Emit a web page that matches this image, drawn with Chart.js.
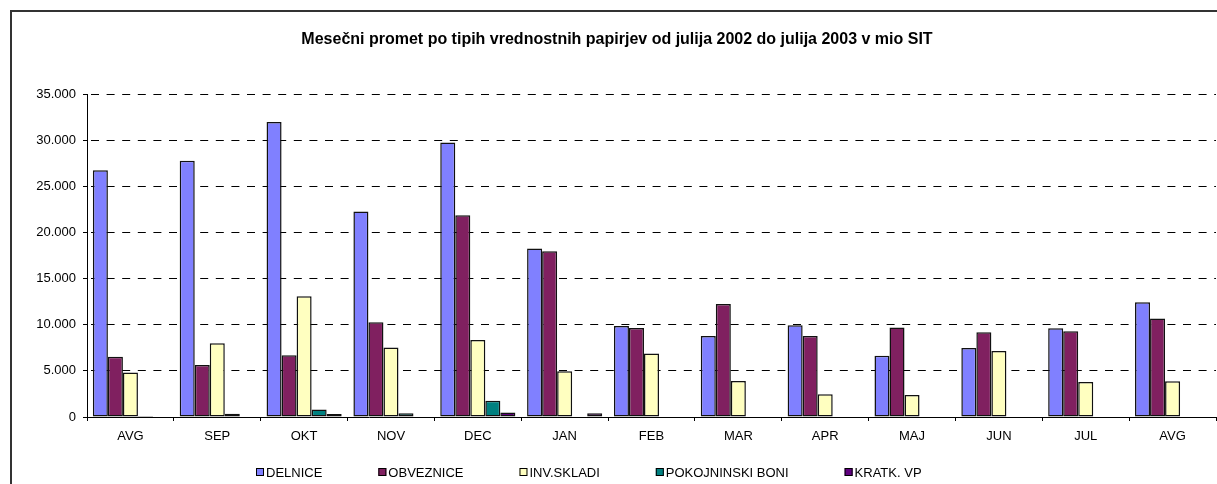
<!DOCTYPE html>
<html>
<head>
<meta charset="utf-8">
<title>Mesečni promet po tipih vrednostnih papirjev</title>
<script src="https://cdn.jsdelivr.net/npm/chart.js@4/dist/chart.umd.min.js"></script>
<style>
  html, body { margin: 0; padding: 0; background: #fff; overflow: hidden; }
  #wrap { position: relative; width: 1217px; height: 484px; }
</style>
</head>
<body>
<div id="wrap"><canvas id="chart" width="1217" height="484"></canvas></div>
<script>
const months = ["AVG", "SEP", "OKT", "NOV", "DEC", "JAN", "FEB", "MAR", "APR", "MAJ", "JUN", "JUL", "AVG"];

const delnice     = [26750, 27760, 31960, 22270, 29750, 18260, 9870, 8785, 9940, 6650, 7480, 9615, 12435];
const obveznice   = [6540, 5640, 6690, 10270, 21870, 17970, 9650, 12255, 8785, 9690, 9180, 9290, 10665];
const invSkladi   = [4810, 7990, 13090, 7520, 8350, 4950, 6870, 3905, 2460, 2385, 7160, 3795, 3870];
const pokojninski = [120, 360, 800, 400, 1760, null, null, null, null, null, null, null, null];
const kratkVp     = [null, null, 325, null, 480, 400, null, null, null, null, null, null, null];

const yTicks = [0, 5000, 10000, 15000, 20000, 25000, 30000, 35000];

const titleText = "Mesečni promet po tipih vrednostnih papirjev od julija 2002 do julija 2003 v mio SIT";
const font = "'Liberation Sans', Arial, sans-serif";

// thousands with a dot, like the original
function fmt(v) {
  return String(v).replace(/\B(?=(\d{3})+(?!\d))/g, ".");
}

// frame, title and legend drawn the way the old spreadsheet did it
const excelFrame = {
  id: "excelFrame",
  beforeDraw(chart) {
    const ctx = chart.ctx;
    ctx.save();
    ctx.fillStyle = "#fff";
    ctx.fillRect(0, 0, chart.width, chart.height);
    ctx.fillStyle = "#333";
    ctx.fillRect(10, 10, 2, chart.height);
    ctx.fillRect(10, 10, chart.width, 2);
    ctx.restore();
  },
  afterDraw(chart) {
    const ctx = chart.ctx;
    ctx.save();
    ctx.fillStyle = "#000";
    ctx.font = "bold 16px " + font;
    ctx.textAlign = "center";
    ctx.textBaseline = "middle";
    ctx.fillText(titleText, 617, 40);

    ctx.font = "13px " + font;
    ctx.textAlign = "left";
    let x = 256;
    const y = 472;
    chart.data.datasets.forEach(ds => {
      ctx.fillStyle = ds.backgroundColor;
      ctx.fillRect(x, y - 4, 8, 8);
      ctx.strokeStyle = "#000";
      ctx.lineWidth = 1;
      ctx.strokeRect(x + 0.5, y - 3.5, 7, 7);
      ctx.fillStyle = "#000";
      ctx.fillText(ds.label, x + 10, y + 1);
      x += 10 + ctx.measureText(ds.label).width + 56;
    });
    ctx.restore();
  }
};

function bar(label, data, color) {
  return {
    label,
    data,
    backgroundColor: color,
    borderColor: "#111",
    borderWidth: 1.5,
    borderSkipped: false,
    categoryPercentage: 0.865,
    barPercentage: 1
  };
}

new Chart(document.getElementById("chart"), {
  type: "bar",
  data: {
    labels: months,
    datasets: [
      bar("DELNICE", delnice, "#8080ff"),
      bar("OBVEZNICE", obveznice, "#802060"),
      bar("INV.SKLADI", invSkladi, "#ffffc0"),
      bar("POKOJNINSKI BONI", pokojninski, "#008080"),
      bar("KRATK. VP", kratkVp, "#600080")
    ]
  },
  options: {
    responsive: false,
    animation: false,
    layout: { padding: { top: 94, right: 1, bottom: 37, left: 0 } },
    plugins: {
      legend: { display: false },
      title: { display: false },
      tooltip: { enabled: false }
    },
    scales: {
      x: {
        afterFit: s => { s.height = 30; },
        grid: {
          offset: true,
          drawOnChartArea: false,
          drawTicks: true,
          tickLength: 4,
          color: "#000"
        },
        border: { display: true, color: "#000", width: 1 },
        ticks: {
          color: "#000",
          font: { family: font, size: 13 },
          padding: 8,
          maxRotation: 0,
          autoSkip: false
        }
      },
      y: {
        min: 0,
        max: 35000,
        afterFit: s => { s.width = 87; },
        afterBuildTicks: s => { s.ticks = yTicks.map(v => ({ value: v })); },
        grid: {
          color: "#000",
          lineWidth: 1,
          drawTicks: true,
          tickLength: 4,
          tickColor: "#000",
          tickBorderDash: []
        },
        border: { display: true, color: "#000", width: 1, dash: [8, 7.6], dashOffset: 12.6 },
        ticks: {
          color: "#000",
          font: { family: font, size: 13 },
          padding: 7,
          callback: v => fmt(v)
        }
      }
    }
  },
  plugins: [excelFrame]
});
</script>
</body>
</html>
